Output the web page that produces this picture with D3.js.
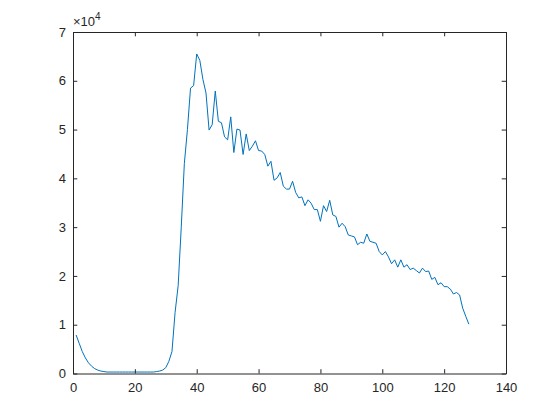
<!DOCTYPE html>
<html>
<head>
<meta charset="utf-8">
<script src="https://cdn.jsdelivr.net/npm/d3@7"></script>
<style>
  html, body { margin: 0; padding: 0; background: #fff; }
  svg { display: block; }
  text { font-family: "Liberation Sans", Arial, Helvetica, sans-serif; }
</style>
</head>
<body>
<svg id="chart" width="560" height="420"></svg>
<script>
// Sample index (1..128)
const xValues = d3.range(1, 129);
// Series values, in units of 10^4
const yValues = [
  0.79, 0.62, 0.45, 0.32, 0.22, 0.15, 0.10, 0.07, 0.05, 0.04,
  0.03, 0.03, 0.03, 0.03, 0.03, 0.03, 0.03, 0.03, 0.03, 0.03,
  0.03, 0.03, 0.03, 0.03, 0.03, 0.03, 0.04, 0.05, 0.07, 0.12,
  0.25, 0.45, 1.25, 1.80, 3.00, 4.30, 5.00, 5.85, 5.90, 6.55,
  6.42, 6.03, 5.75, 4.99, 5.10, 5.79, 5.17, 5.14, 4.85, 4.79,
  5.26, 4.53, 5.01, 4.99, 4.49, 4.91, 4.57, 4.66, 4.77, 4.57,
  4.56, 4.49, 4.25, 4.35, 3.96, 4.01, 4.12, 3.84, 3.78, 3.78,
  3.94, 3.71, 3.60, 3.62, 3.44, 3.56, 3.49, 3.36, 3.36, 3.12,
  3.44, 3.32, 3.55, 3.25, 3.22, 3.00, 3.08, 3.01, 2.84, 2.82,
  2.80, 2.64, 2.69, 2.67, 2.86, 2.71, 2.69, 2.67, 2.50, 2.43,
  2.50, 2.39, 2.25, 2.33, 2.18, 2.33, 2.18, 2.23, 2.13, 2.16,
  2.11, 2.06, 2.16, 2.09, 2.10, 1.93, 1.97, 1.82, 1.86, 1.78,
  1.78, 1.73, 1.63, 1.66, 1.61, 1.34, 1.17, 1.01
];
const xTicks = [0, 20, 40, 60, 80, 100, 120, 140];
const yTicks = [0, 1, 2, 3, 4, 5, 6, 7];
const exponentBase = "\u00d710";
const exponentPower = "4";

const data = xValues.map((xv, i) => ({ x: xv, y: yValues[i] }));

const svg = d3.select("#chart");
const plotLeft = 73, plotRight = 506, plotTop = 32, plotBottom = 373.5;
const axisColor = "#262626";
const tickLen = 4.3;

const x = d3.scaleLinear().domain([0, 140]).range([plotLeft, plotRight]);
const y = d3.scaleLinear().domain([0, 7]).range([plotBottom, plotTop]);

// Data line
const line = d3.line().x(d => x(d.x)).y(d => y(d.y));
svg.append("path")
  .datum(data)
  .attr("fill", "none")
  .attr("stroke", "#0072BD")
  .attr("stroke-width", 1)
  .attr("stroke-linejoin", "round")
  .attr("d", line);

// Axes (ticks pointing inward, labels outside)
const xAxis = d3.axisBottom(x).tickValues(xTicks).tickSizeInner(-tickLen).tickSizeOuter(0).tickPadding(9).tickFormat(d3.format("d"));
const yAxis = d3.axisLeft(y).tickValues(yTicks).tickSizeInner(-tickLen).tickSizeOuter(0).tickPadding(7).tickFormat(d3.format("d"));
const xTop = d3.axisTop(x).tickValues(xTicks).tickSizeInner(-tickLen).tickSizeOuter(0).tickFormat("");
const yRight = d3.axisRight(y).tickValues(yTicks).tickSizeInner(-tickLen).tickSizeOuter(0).tickFormat("");

function style(g) {
  g.select(".domain").attr("stroke", axisColor).attr("stroke-width", 1);
  g.selectAll(".tick line").attr("stroke", axisColor).attr("stroke-width", 1);
  g.selectAll(".tick text").attr("fill", axisColor).style("font-size", "13px")
    .style("font-family", "'Liberation Sans', Arial, Helvetica, sans-serif");
}

svg.append("g").attr("transform", `translate(0,${plotBottom})`).call(xAxis).call(style);
svg.append("g").attr("transform", `translate(${plotLeft},0)`).call(yAxis).call(style);
svg.append("g").attr("transform", `translate(0,${plotTop})`).call(xTop).call(style);
svg.append("g").attr("transform", `translate(${plotRight},0)`).call(yRight).call(style);

// Exponent label
const expText = svg.append("text")
  .attr("x", plotLeft)
  .attr("y", 26)
  .attr("fill", axisColor)
  .style("font-size", "13px");
expText.append("tspan").text(exponentBase);
expText.append("tspan").attr("dy", -6).style("font-size", "10px").text(exponentPower);
</script>
</body>
</html>
